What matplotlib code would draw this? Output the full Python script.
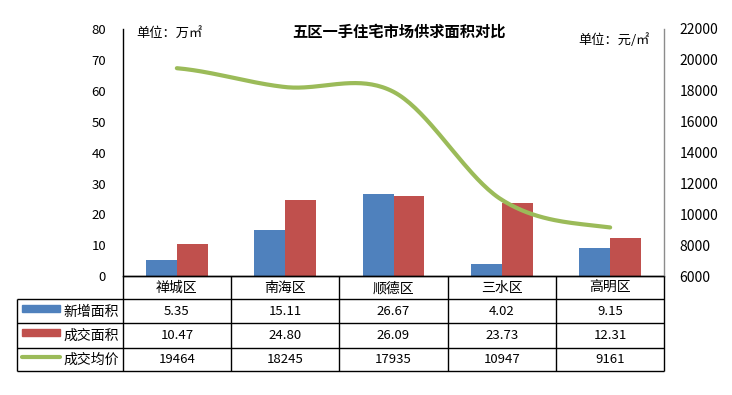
import numpy as np
import matplotlib
matplotlib.use('Agg')
import matplotlib.pyplot as plt
from matplotlib.patches import Rectangle

plt.rcParams['font.family'] = ['Noto Sans CJK SC', 'DejaVu Sans']

# ---- data ----
categories = ['禅城区', '南海区', '顺德区', '三水区', '高明区']
new_area = [5.35, 15.11, 26.67, 4.02, 9.15]
deal_area = [10.47, 24.80, 26.09, 23.73, 12.31]
avg_price = [19464, 18245, 17935, 10947, 9161]
series_names = ['新增面积', '成交面积', '成交均价']
left_ticks = list(range(0, 81, 10))
right_ticks = list(range(6000, 22001, 2000))
title_text = '五区一手住宅市场供求面积对比'
left_unit = '单位：万㎡'
right_unit = '单位：元/㎡'

BLUE = '#4F81BD'
RED = '#C0504D'
GREEN = '#9BBB59'

W, H = 732, 395
fig = plt.figure(figsize=(W / 100, H / 100), dpi=100)
fig.patch.set_facecolor('white')

# plot area in pixels
PL, PR, PT, PB = 122.7, 664.3, 29.0, 276.3
ax = fig.add_axes([PL / W, (H - PB) / H, (PR - PL) / W, (PB - PT) / H])
ax.set_facecolor('none')
n = len(categories)
x = np.arange(n)
bw = 0.286
ax.bar(x - bw / 2, new_area, width=bw, color=BLUE, zorder=2)
ax.bar(x + bw / 2, deal_area, width=bw, color=RED, zorder=2)
ax.set_xlim(-0.5, n - 0.5)
ax.set_ylim(left_ticks[0], left_ticks[-1])
ax.set_yticks(left_ticks)
ax.set_xticks([])
ax.tick_params(axis='y', length=0, pad=12, labelsize=9.5)
for s in ['top', 'right']:
    ax.spines[s].set_visible(False)
ax.spines['left'].set_color('black')
ax.spines['left'].set_linewidth(1.0)
ax.spines['bottom'].set_color('black')
ax.spines['bottom'].set_linewidth(1.0)

ax2 = ax.twinx()
ax2.set_ylim(right_ticks[0], right_ticks[-1])
ax2.set_yticks(right_ticks)
ax2.tick_params(axis='y', length=0, pad=11, labelsize=10)
for s in ['top', 'left', 'bottom']:
    ax2.spines[s].set_visible(False)
ax2.spines['right'].set_color('#8C8C8C')
ax2.spines['right'].set_linewidth(1.0)


def smooth(y, steps=40):
    y = np.asarray(y, float)
    k = len(y)
    m = np.empty(k)
    m[1:-1] = (y[2:] - y[:-2]) / 2
    m[0] = (y[1] - y[0]) / 2
    m[-1] = (y[-1] - y[-2]) / 2
    xs, ys = [], []
    for i in range(k - 1):
        t = np.linspace(0, 1, steps, endpoint=(i == k - 2))
        h00 = 2 * t**3 - 3 * t**2 + 1
        h10 = t**3 - 2 * t**2 + t
        h01 = -2 * t**3 + 3 * t**2
        h11 = t**3 - t**2
        ys.append(h00 * y[i] + h10 * m[i] + h01 * y[i + 1] + h11 * m[i + 1])
        xs.append(i + t)
    return np.concatenate(xs), np.concatenate(ys)


sx, sy = smooth(avg_price)
ax2.plot(sx, sy, color=GREEN, lw=3.0, solid_capstyle='round', zorder=3)

# titles / units
fig.text(399 / W, 1 - 32 / H, title_text, ha='center', va='center',
         fontsize=11, fontweight='bold')
fig.text(136 / W, 1 - 33 / H, left_unit, ha='left', va='center', fontsize=9.5)
fig.text(578 / W, 1 - 40 / H, right_unit, ha='left', va='center', fontsize=9.5)

# ---- data table (overlay in pixel coordinates) ----
tab = fig.add_axes([0, 0, 1, 1])
tab.set_xlim(0, W)
tab.set_ylim(H, 0)
tab.axis('off')
tab.set_facecolor('none')

TL = 17.3
rows_y = [PB, 299.0, 323.3, 347.5, 371.3]
colw = (PR - PL) / n
col_x = [PL + i * colw for i in range(n + 1)]
lk = dict(color='black', lw=1.0, solid_capstyle='butt')
# horizontal lines
tab.plot([PL, PR], [rows_y[0], rows_y[0]], **lk)
for yy in rows_y[1:]:
    tab.plot([TL, PR], [yy, yy], **lk)
# vertical lines
tab.plot([TL, TL], [rows_y[1], rows_y[-1]], **lk)
for cx in col_x:
    tab.plot([cx, cx], [rows_y[0], rows_y[-1]], **lk)

# header labels
for i, c in enumerate(categories):
    tab.text(PL + (i + 0.5) * colw, (rows_y[0] + rows_y[1]) / 2 + 0.5, c,
             ha='center', va='center', fontsize=10)

row_vals = [
    [f'{v:.2f}' for v in new_area],
    [f'{v:.2f}' for v in deal_area],
    [f'{v:d}' for v in avg_price],
]
for r in range(3):
    yc = (rows_y[r + 1] + rows_y[r + 2]) / 2
    for i in range(n):
        tab.text(PL + (i + 0.5) * colw, yc + 0.5, row_vals[r][i],
                 ha='center', va='center', fontsize=9.5)
    tab.text(63, yc + 0.5, series_names[r], ha='left', va='center', fontsize=10)

# legend keys
yc1 = (rows_y[1] + rows_y[2]) / 2
yc2 = (rows_y[2] + rows_y[3]) / 2
yc3 = (rows_y[3] + rows_y[4]) / 2
tab.add_patch(Rectangle((22, yc1 - 6), 38, 7, color=BLUE))
tab.add_patch(Rectangle((22, yc2 - 6), 38, 7, color=RED))
tab.plot([22, 60], [yc3 - 2.5, yc3 - 2.5], color=GREEN, lw=3.0,
         solid_capstyle='round')

fig.savefig('out.png', dpi=100, facecolor='white')
